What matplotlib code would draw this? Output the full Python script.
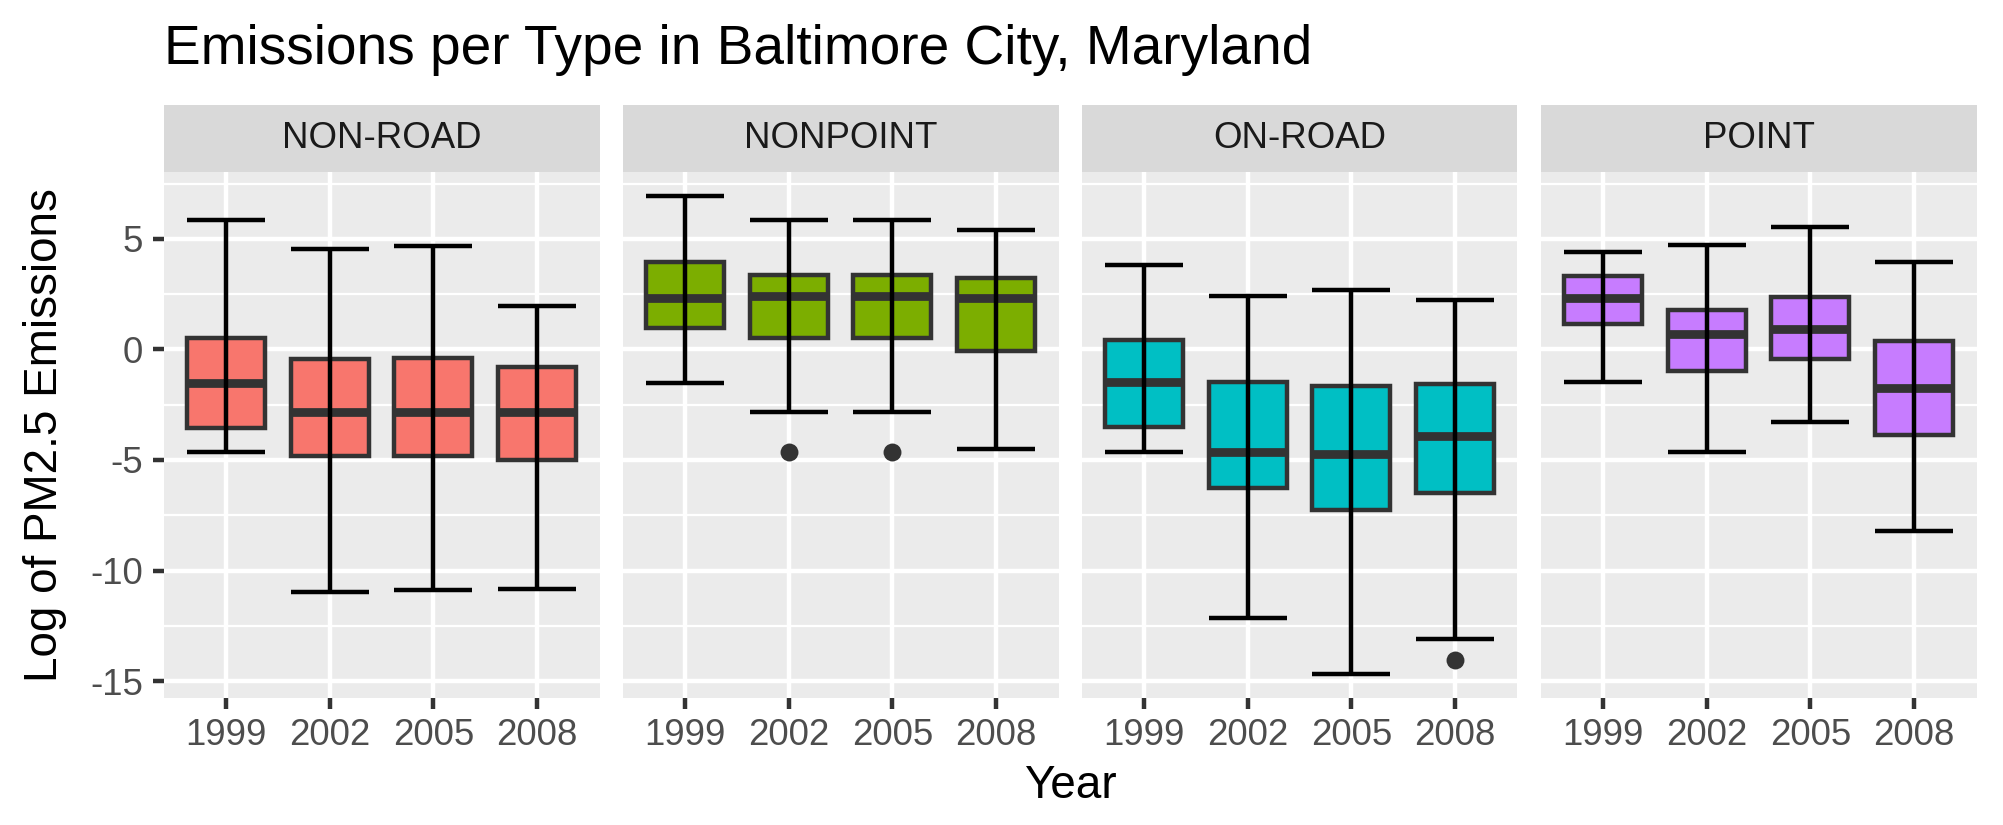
import matplotlib
matplotlib.use("Agg")
import matplotlib.pyplot as plt

plt.rcParams['font.family'] = ['Liberation Sans', 'DejaVu Sans']
plt.rcParams['axes.unicode_minus'] = False

# data (log PM2.5 emissions)
types = ["NON-ROAD", "NONPOINT", "ON-ROAD", "POINT"]
years = ["1999", "2002", "2005", "2008"]
colors = ["#F8766D", "#7CAE00", "#00BFC4", "#C77CFF"]

whisker_low = [[-4.62, -10.99, -10.90, -10.85],
               [-1.50, -2.84, -2.84, -4.48],
               [-4.62, -12.13, -14.67, -13.08],
               [-1.46, -4.62, -3.26, -8.21]]
q1 = [[-3.55, -4.84, -4.84, -5.02],
      [0.96, 0.54, 0.54, -0.05],
      [-3.52, -6.27, -7.28, -6.48],
      [1.17, -0.99, -0.45, -3.87]]
median = [[-1.52, -2.84, -2.84, -2.84],
          [2.32, 2.44, 2.44, 2.32],
          [-1.46, -4.62, -4.72, -3.92],
          [2.35, 0.71, 0.91, -1.74]]
q3 = [[0.52, -0.42, -0.38, -0.78],
      [3.97, 3.38, 3.38, 3.24],
      [0.44, -1.48, -1.67, -1.57],
      [3.33, 1.78, 2.39, 0.37]]
whisker_high = [[5.87, 4.53, 4.67, 1.95],
                [6.93, 5.85, 5.85, 5.40],
                [3.80, 2.44, 2.67, 2.25],
                [4.39, 4.72, 5.52, 3.97]]
outliers = [[[], [], [], []],
            [[], [-4.62], [-4.62], []],
            [[], [], [], [-14.04]],
            [[], [], [], []]]

W, H = 2003, 825
fig = plt.figure(figsize=(W / 300, H / 300), dpi=300)

left_px, panel_w, gap = 163.5, 436, 23
bottom = 127.4 / H
height = (697.6 - 172) / H
strip_h = 67 / H

pos = [1, 2, 3, 4]
lw = 1.07

for i, t in enumerate(types):
    x0 = (left_px + i * (panel_w + gap)) / W
    ax = fig.add_axes([x0, bottom, panel_w / W, height])
    ax.set_facecolor("#EBEBEB")
    for s in ax.spines.values():
        s.set_visible(False)

    stats = []
    for j in range(4):
        stats.append(dict(whislo=whisker_low[i][j], q1=q1[i][j], med=median[i][j],
                          q3=q3[i][j], whishi=whisker_high[i][j], fliers=outliers[i][j]))
    bp = ax.bxp(stats, positions=pos, widths=0.75, patch_artist=True, showcaps=False,
                boxprops=dict(facecolor=colors[i], edgecolor="#333333", linewidth=lw),
                medianprops=dict(color="#333333", linewidth=2.1, solid_capstyle="butt"),
                whiskerprops=dict(linewidth=0),
                flierprops=dict(marker="o", markerfacecolor="#333333",
                                markeredgecolor="none", markersize=4.3),
                zorder=3)

    # error bars on top (full range with caps)
    ax.vlines(pos, whisker_low[i], whisker_high[i], color="black", linewidth=lw, zorder=4)
    ax.hlines(whisker_low[i], [p - 0.375 for p in pos], [p + 0.375 for p in pos],
              color="black", linewidth=lw, zorder=4)
    ax.hlines(whisker_high[i], [p - 0.375 for p in pos], [p + 0.375 for p in pos],
              color="black", linewidth=lw, zorder=4)

    ax.set_xlim(0.4, 4.6)
    ax.set_ylim(-15.75, 8.03)
    ax.set_yticks([-15, -10, -5, 0, 5])
    ax.set_yticks([-12.5, -7.5, -2.5, 2.5, 7.5], minor=True)
    ax.set_xticks(pos)
    ax.set_xticklabels(years)
    ax.grid(True, which="major", color="white", linewidth=lw, zorder=0)
    ax.grid(True, which="minor", axis="y", color="white", linewidth=0.53, zorder=0)
    ax.set_axisbelow(True)
    ax.tick_params(axis="both", which="major", length=2.75, width=lw, color="#333333",
                   labelsize=8.8, labelcolor="#4D4D4D", pad=2.2)
    ax.tick_params(axis="both", which="minor", length=0)
    if i == 0:
        ax.set_yticklabels(["-15", "-10", "-5", "0", "5"])
    else:
        ax.tick_params(axis="y", which="major", length=0, labelleft=False)

    sax = fig.add_axes([x0, bottom + height, panel_w / W, strip_h])
    sax.set_facecolor("#D9D9D9")
    sax.set_xticks([])
    sax.set_yticks([])
    for s in sax.spines.values():
        s.set_visible(False)
    sax.text(0.5, 0.5, t, ha="center", va="center", fontsize=8.8, color="#1A1A1A",
             transform=sax.transAxes)

fig.text(left_px / W, 1 - 64 / H, "Emissions per Type in Baltimore City, Maryland",
         fontsize=13.2, ha="left", va="baseline", color="black")
fig.text(45 / W, bottom + height / 2, "Log of PM2.5 Emissions", rotation=90,
         fontsize=11, ha="center", va="center", color="black")
fig.text((left_px + (4 * panel_w + 3 * gap) / 2) / W, 1 - 798 / H, "Year",
         fontsize=11, ha="center", va="baseline", color="black")

fig.savefig("out.png", dpi=300, facecolor="white")
